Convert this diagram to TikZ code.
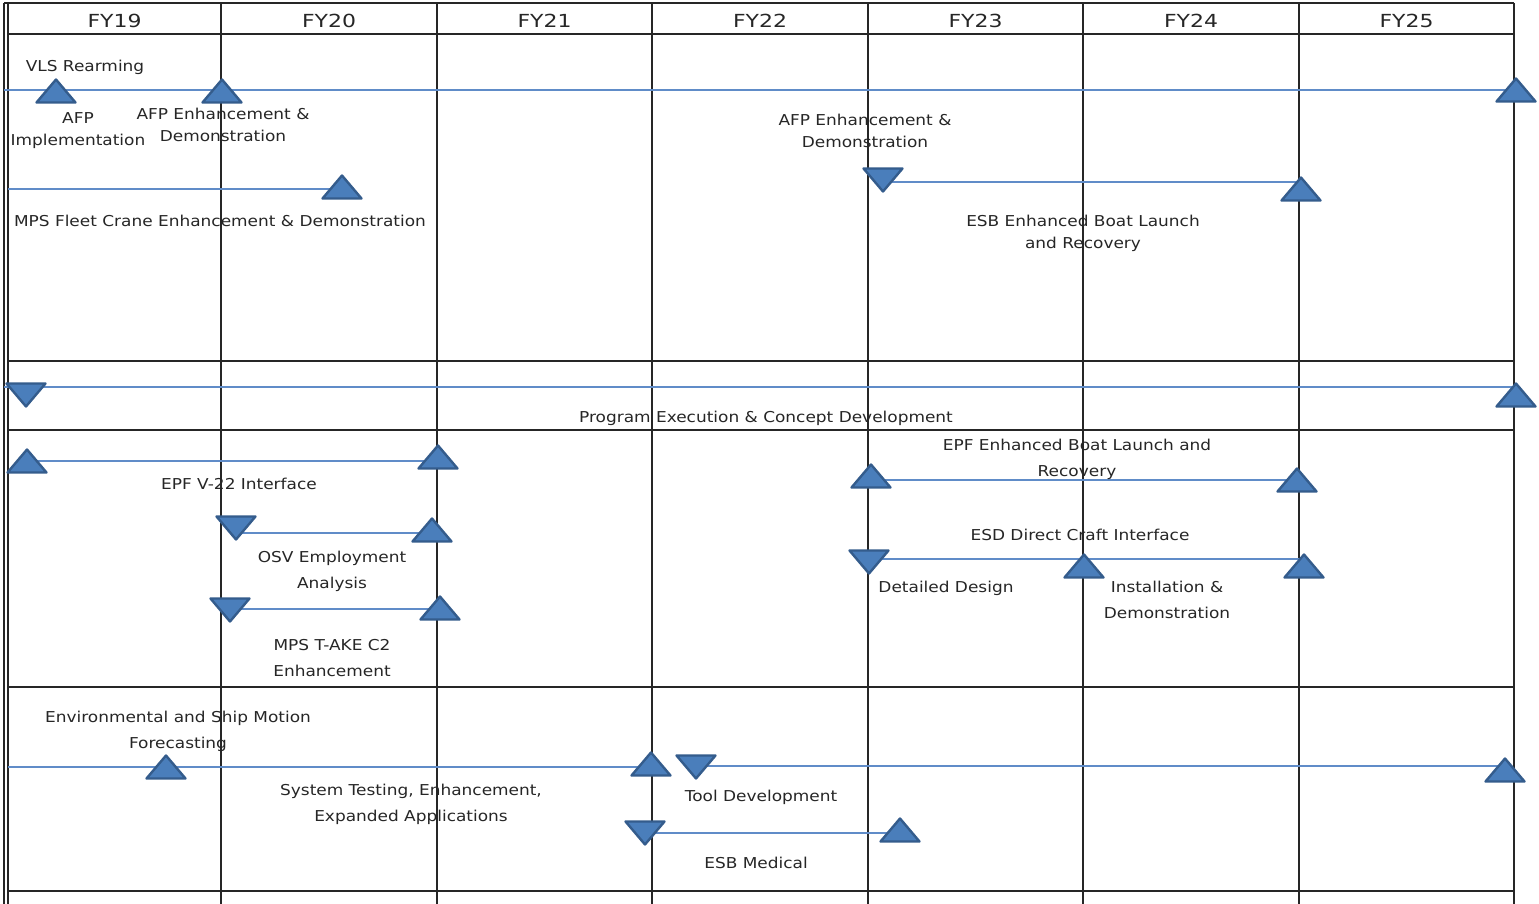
\documentclass[tikz,border=0pt]{standalone}
\usepackage{fontspec}
\setmainfont{DejaVu Sans}
\newfontfamily\lblfont{DejaVu Sans}[FakeStretch=1.13]
\newfontfamily\hdrfont{DejaVu Sans}[FakeStretch=1.22]
\definecolor{msfill}{RGB}{74,126,187}
\definecolor{msedge}{RGB}{52,92,140}
\definecolor{trk}{RGB}{96,140,200}

\begin{document}
\begin{tikzpicture}[
  x=1pt, y=-1pt,
  grid/.style={line width=1.6pt, draw=black!85},
  hdr/.style={inner sep=0pt, text=black!85, font=\hdrfont\fontsize{18}{20}\selectfont},
  lbl/.style={inner sep=0pt, align=center, text=black!85, font=\lblfont\fontsize{15}{26}\selectfont},
  lbl1/.style={lbl, font=\lblfont\fontsize{15}{22}\selectfont},
  ms/.style={fill=msfill, draw=msedge, line width=2.4pt, line join=round},
  track/.style={draw=trk, line width=1.3pt},
  msup/.pic={\path[ms] (-19.5,11.5) -- (19.5,11.5) -- (0,-11.5) -- cycle;},
  msdown/.pic={\path[ms] (-19.5,-11.5) -- (19.5,-11.5) -- (0,11.5) -- cycle;}
]
  \useasboundingbox (0,0) rectangle (1539,904);

  \draw[grid] (4,3) -- (4,904) (8,3) -- (8,904);
  \draw[grid] (4,3) -- (1514,3) (8,34) -- (1514,34);
  \foreach \r in {361,430,687,891} \draw[grid] (8,\r) -- (1514,\r);
  \foreach \c in {221,437,652,868,1083,1299,1514} \draw[grid] (\c,3) -- (\c,904);
  \foreach \n/\c in {19/114.5, 20/329, 21/544.5, 22/760, 23/975.5, 24/1191, 25/1406.5}
    \node[hdr] (fy\n) at (\c,21) {FY\n};

  \coordinate (t1) at (56,91);
  \coordinate (t2) at (222,91);
  \coordinate (t3) at (1516,90);
  \coordinate (t4) at (342,187);
  \coordinate (t5) at (883,180);
  \coordinate (t6) at (1301,189);
  \coordinate (t7) at (26,395);
  \coordinate (t8) at (1516,395);
  \coordinate (t9) at (27,461);
  \coordinate (t10) at (438,457);
  \coordinate (t11) at (236,528);
  \coordinate (t12) at (432,530);
  \coordinate (t13) at (230,610);
  \coordinate (t14) at (440,608);
  \coordinate (t15) at (871,476);
  \coordinate (t16) at (1297,480);
  \coordinate (t17) at (869,562);
  \coordinate (t18) at (1084,566);
  \coordinate (t19) at (1304,566);
  \coordinate (t20) at (166,767);
  \coordinate (t21) at (651,764);
  \coordinate (t22) at (696,767);
  \coordinate (t23) at (1505,770);
  \coordinate (t24) at (645,833);
  \coordinate (t25) at (900,830);

  \coordinate (k1) at (4,90);
  \coordinate (k2) at (8,189);
  \coordinate (k3) at (883,182);
  \coordinate (k4) at (4,387);
  \coordinate (k5) at (27,461);
  \coordinate (k6) at (236,533);
  \coordinate (k7) at (230,609);
  \coordinate (k8) at (871,480);
  \coordinate (k9) at (869,559);
  \coordinate (k10) at (8,767);
  \coordinate (k11) at (696,766);
  \coordinate (k12) at (645,833);

  \draw[track] (k1) -- (k1 -| t3);
  \draw[track] (k2) -- (k2 -| t4);
  \draw[track] (k3) -- (k3 -| t6);
  \draw[track] (k4) -- (k4 -| t8);
  \draw[track] (k5) -- (k5 -| t10);
  \draw[track] (k6) -- (k6 -| t12);
  \draw[track] (k7) -- (k7 -| t14);
  \draw[track] (k8) -- (k8 -| t16);
  \draw[track] (k9) -- (k9 -| t19);
  \draw[track] (k10) -- (k10 -| t21);
  \draw[track] (k11) -- (k11 -| t23);
  \draw[track] (k12) -- (k12 -| t25);

  \foreach \t in {t1,t2,t3,t4,t6,t8,t9,t10,t12,t14,t15,t16,t18,t19,t20,t21,t23,t25}
    \pic at (\t) {msup};
  \foreach \t in {t5,t7,t11,t13,t17,t22,t24}
    \pic at (\t) {msdown};

  \node[lbl] (vls) at (85,67) {VLS Rearming};
  \node[lbl1] (afpi) at (78,131) {AFP\\Implementation};
  \node[lbl1] (afpe) at (223,125) {AFP Enhancement \&\\Demonstration};
  \node[lbl] (crane) at (220,221) {MPS Fleet Crane Enhancement \& Demonstration};
  \node[lbl1] (afpe2) at (865,131) {AFP Enhancement \&\\Demonstration};
  \node[lbl1] (esbl) at (1083,233.5) {ESB Enhanced Boat Launch\\and Recovery};
  \node[lbl] (prog) at (766,418) {Program Execution \& Concept Development};
  \node[lbl] (v22) at (239,483.5) {EPF V-22 Interface};
  \node[lbl] (osv) at (332,571.5) {OSV Employment\\Analysis};
  \node[lbl] (take) at (332,658.5) {MPS T-AKE C2\\Enhancement};
  \node[lbl] (epfl) at (1077,459.5) {EPF Enhanced Boat Launch and\\Recovery};
  \node[lbl] (esd) at (1080,534.5) {ESD Direct Craft Interface};
  \node[lbl] (dd) at (946,588) {Detailed Design};
  \node[lbl] (inst) at (1167,599.5) {Installation \&\\Demonstration};
  \node[lbl] (env) at (178,731.5) {Environmental and Ship Motion\\Forecasting};
  \node[lbl] (sys) at (411,804.5) {System Testing, Enhancement,\\Expanded Applications};
  \node[lbl] (tool) at (761,797.5) {Tool Development};
  \node[lbl] (med) at (756,863) {ESB Medical};
\end{tikzpicture}
\end{document}
